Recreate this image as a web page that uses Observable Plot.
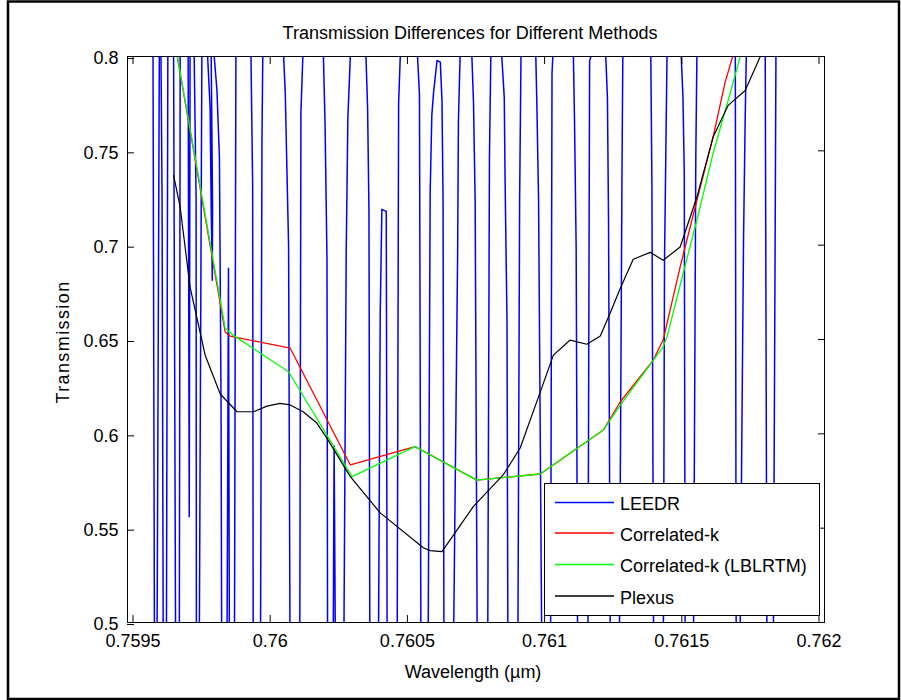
<!DOCTYPE html>
<html>
<head>
<meta charset="utf-8">
<script src="https://cdn.jsdelivr.net/npm/d3@7"></script>
<script src="https://cdn.jsdelivr.net/npm/@observablehq/plot@0.6"></script>
<style>
  html, body { margin: 0; padding: 0; background: #fff; }
  #chart { width: 901px; height: 700px; }
</style>
</head>
<body>
<div id="chart"></div>
<script>
const FONT = "'Liberation Sans', Arial, Helvetica, sans-serif";

const titleText = "Transmission Differences for Different Methods";
const xLabelText = "Wavelength (\u00b5m)";
const yLabelText = "Transmission";

const xDomain = [0.75948, 0.76202];
const yDomain = [0.5, 0.8];
const xTicks = [0.7595, 0.76, 0.7605, 0.761, 0.7615, 0.762];
const yTicks = [0.5, 0.55, 0.6, 0.65, 0.7, 0.75, 0.8];

const seriesNames = ["LEEDR", "Correlated-k", "Correlated-k (LBLRTM)", "Plexus"];
const seriesColors = ["#0000ff", "#ff0000", "#00ff00", "#000000"];

// LEEDR: visible pieces of the high-resolution line (each piece crosses / touches the 0.5–0.8 window)
const leedrPieces = [
  [[0.759573,0.8],[0.759578,0.5]],
  [[0.759596,0.8],[0.759588,0.5]],
  [[0.759602,0.8],[0.759606,0.7243],[0.759610,0.5]],
  [[0.759627,0.8],[0.759622,0.5]],
  [[0.759648,0.8],[0.759655,0.5]],
  [[0.759672,0.8],[0.759669,0.5]],
  [[0.759701,0.8],[0.759705,0.5560],[0.759708,0.8]],
  [[0.759723,0.8],[0.759730,0.7238],[0.759731,0.5]],
  [[0.759751,0.8],[0.759742,0.5]],
  [[0.759772,0.8],[0.759781,0.7730],[0.759785,0.7201],[0.759789,0.6814],[0.759790,0.7201],[0.759785,0.8]],
  [[0.759796,0.8],[0.759806,0.7820],[0.759815,0.7465],[0.759821,0.6142],[0.759823,0.5]],
  [[0.759843,0.5],[0.759848,0.6878],[0.759851,0.5]],
  [[0.759875,0.8],[0.759870,0.5]],
  [[0.759930,0.8],[0.759936,0.7328],[0.759938,0.5]],
  [[0.759973,0.8],[0.759970,0.7555],[0.759965,0.5]],
  [[0.760049,0.8],[0.760055,0.7804],[0.760061,0.7397],[0.760067,0.6999],[0.760072,0.5]],
  [[0.760119,0.8],[0.760112,0.7704],[0.760108,0.5]],
  [[0.760194,0.8],[0.760200,0.7635],[0.760207,0.6920],[0.760209,0.5]],
  [[0.760230,0.5],[0.760233,0.5935],[0.760237,0.5]],
  [[0.760292,0.8],[0.760283,0.7672],[0.760277,0.6957],[0.760269,0.5]],
  [[0.760349,0.8],[0.760355,0.7725],[0.760360,0.7174],[0.760363,0.5]],
  [[0.760395,0.5],[0.760401,0.6640],[0.760407,0.7190],[0.760423,0.7179],[0.760426,0.5]],
  [[0.760474,0.8],[0.760468,0.7751],[0.760463,0.5]],
  [[0.760537,0.8],[0.760544,0.7794],[0.760549,0.5]],
  [[0.760576,0.5],[0.760583,0.7280],[0.760589,0.7688],[0.760595,0.7804],[0.760608,0.7979],[0.760620,0.7970],[0.760626,0.7767],[0.760630,0.7222],[0.760633,0.5]],
  [[0.760692,0.8],[0.760686,0.7661],[0.760683,0.6947],[0.760669,0.5]],
  [[0.760735,0.8],[0.760741,0.7751],[0.760747,0.7222],[0.760754,0.5]],
  [[0.760804,0.8],[0.760799,0.7465],[0.760793,0.5]],
  [[0.760844,0.8],[0.760853,0.7783],[0.760856,0.7344],[0.760863,0.6592],[0.760866,0.5]],
  [[0.760914,0.8],[0.760909,0.7248],[0.760903,0.5]],
  [[0.760968,0.8],[0.760972,0.7730],[0.760978,0.7238],[0.760989,0.5]],
  [[0.761030,0.8],[0.761027,0.7910],[0.761022,0.5]],
  [[0.761105,0.8],[0.761109,0.7661],[0.761115,0.6984],[0.761120,0.5]],
  [[0.761169,0.8],[0.761164,0.7979],[0.761158,0.5]],
  [[0.761223,0.8],[0.761229,0.7778],[0.761233,0.7121],[0.761239,0.5]],
  [[0.761285,0.8],[0.761282,0.7381],[0.761273,0.5]],
  [[0.761387,0.8],[0.761391,0.7328],[0.761397,0.5]],
  [[0.761446,0.8],[0.761442,0.7513],[0.761437,0.6920],[0.761433,0.5]],
  [[0.761498,0.8],[0.761504,0.7794],[0.761509,0.7386],[0.761512,0.5]],
  [[0.761555,0.8],[0.761551,0.7465],[0.761543,0.5]],
  [[0.761695,0.8],[0.761698,0.5]],
  [[0.761735,0.8],[0.761731,0.7677],[0.761725,0.7037],[0.761713,0.5]],
  [[0.761804,0.8],[0.761810,0.5]],
  [[0.761843,0.8],[0.761834,0.5]]
];

// Correlated-k
const ckWavelength = [0.759617, 0.759836, 0.759854, 0.760073, 0.760292, 0.760528, 0.760753, 0.760984, 0.761214, 0.761276, 0.761396, 0.761432, 0.761494, 0.761555, 0.761614, 0.761658, 0.761713];
const ckTransmission = [0.837, 0.6539, 0.6518, 0.6454, 0.5835, 0.5932, 0.5755, 0.5787, 0.6020, 0.6170, 0.6391, 0.6497, 0.6885, 0.7238, 0.7573, 0.7864, 0.8138];

// Correlated-k (LBLRTM)
const lblWavelength = [0.759617, 0.759836, 0.759865, 0.760067, 0.760298, 0.760528, 0.760753, 0.760984, 0.761214, 0.761276, 0.761432, 0.761446, 0.761505, 0.761555, 0.761614, 0.761669, 0.761749];
const lblTransmission = [0.837, 0.6560, 0.6523, 0.6329, 0.5773, 0.5932, 0.5755, 0.5787, 0.6020, 0.6152, 0.6461, 0.6514, 0.6851, 0.7132, 0.7487, 0.7767, 0.8191];

// Plexus
const plexusWavelength = [0.759648, 0.759672, 0.759708, 0.759751, 0.759763, 0.759818, 0.759879, 0.759939, 0.759988, 0.760036, 0.760073, 0.760120, 0.760170, 0.760207, 0.760292, 0.760401, 0.760558, 0.760583, 0.760626, 0.760740, 0.760849, 0.760911, 0.760984, 0.761032, 0.761093, 0.761154, 0.761203, 0.761239, 0.761276, 0.761323, 0.761385, 0.761432, 0.761494, 0.761555, 0.761614, 0.761669, 0.761731, 0.761815];
const plexusTransmission = [0.7370, 0.7201, 0.6777, 0.6497, 0.6417, 0.6211, 0.6117, 0.6117, 0.6147, 0.6161, 0.6153, 0.6117, 0.6057, 0.5976, 0.5773, 0.5581, 0.5396, 0.5381, 0.5376, 0.5614, 0.5782, 0.5925, 0.6221, 0.6417, 0.6497, 0.6475, 0.6518, 0.6640, 0.6772, 0.6925, 0.6962, 0.6920, 0.6990, 0.7255, 0.7573, 0.7741, 0.7820, 0.8095];

// ---- build tables ----
const leedrRows = leedrPieces.flatMap((piece, i) => piece.map(([w, t]) => ({piece: i, w, t})));
const toRows = (wl, tr) => wl.map((w, i) => ({w, t: tr[i]}));
const ckRows = toRows(ckWavelength, ckTransmission);
const lblRows = toRows(lblWavelength, lblTransmission);
const plexusRows = toRows(plexusWavelength, plexusTransmission);

const fmt = d => String(d);

const plot = Plot.plot({
  width: 901,
  height: 700,
  marginLeft: 127,
  marginRight: 77,
  marginTop: 56,
  marginBottom: 78,
  style: {fontFamily: FONT, fontSize: "18px", color: "#000", background: "#fff", overflow: "visible"},
  x: {domain: xDomain},
  y: {domain: yDomain},
  marks: [
    Plot.line(leedrRows, {x: "w", y: "t", z: "piece", stroke: seriesColors[0], strokeWidth: 1.5, clip: true}),
    Plot.line(ckRows, {x: "w", y: "t", stroke: seriesColors[1], strokeWidth: 1.3, clip: true}),
    Plot.line(lblRows, {x: "w", y: "t", stroke: seriesColors[2], strokeWidth: 1.3, clip: true}),
    Plot.line(plexusRows, {x: "w", y: "t", stroke: seriesColors[3], strokeWidth: 1.2, clip: true}),
    Plot.frame({stroke: "#000", strokeWidth: 1}),
    Plot.axisX(xTicks, {anchor: "bottom", tickSize: -7, tickPadding: 19, tickFormat: fmt, label: null, fontSize: 18}),
    Plot.axisX(xTicks, {anchor: "top", tickSize: -7, tickFormat: () => "", label: null}),
    Plot.axisY(yTicks, {anchor: "left", tickSize: -7, tickPadding: 16, dy: 2, tickFormat: fmt, label: null, fontSize: 18}),
    Plot.axisY(yTicks, {anchor: "right", tickSize: -7, tickFormat: () => "", label: null})
  ]
});

document.getElementById("chart").appendChild(plot);

// ---- overlay texts, legend and figure border ----
const svg = d3.select(plot);

svg.append("text")
  .attr("x", 470).attr("y", 39)
  .attr("text-anchor", "middle")
  .attr("font-family", FONT).attr("font-size", 18).attr("fill", "#000")
  .text(titleText);

svg.append("text")
  .attr("x", 473).attr("y", 678)
  .attr("text-anchor", "middle")
  .attr("font-family", FONT).attr("font-size", 18).attr("fill", "#000")
  .text(xLabelText);

svg.append("text")
  .attr("transform", "translate(69,342) rotate(-90)")
  .attr("text-anchor", "middle")
  .attr("font-family", FONT).attr("font-size", 18).attr("fill", "#000")
  .attr("letter-spacing", 1.4)
  .text(yLabelText);

const legend = svg.append("g").attr("text-anchor", "start");
legend.append("rect")
  .attr("x", 544.5).attr("y", 483.5).attr("width", 275).attr("height", 132)
  .attr("fill", "#fff").attr("stroke", "#000").attr("stroke-width", 1);
const rowY = [502.5, 533, 564.5, 596];
seriesNames.forEach((name, i) => {
  legend.append("line")
    .attr("x1", 555).attr("x2", 614).attr("y1", rowY[i]).attr("y2", rowY[i])
    .attr("stroke", seriesColors[i]).attr("stroke-width", 1.3);
  legend.append("text")
    .attr("x", 620).attr("y", rowY[i] + 7.5)
    .attr("text-anchor", "start")
    .attr("font-family", FONT).attr("font-size", 18).attr("fill", "#000")
    .text(name);
});

svg.append("rect")
  .attr("x", 8).attr("y", 1.5).attr("width", 891).attr("height", 697.5)
  .attr("fill", "none").attr("stroke", "#000").attr("stroke-width", 2.5);
</script>
</body>
</html>
